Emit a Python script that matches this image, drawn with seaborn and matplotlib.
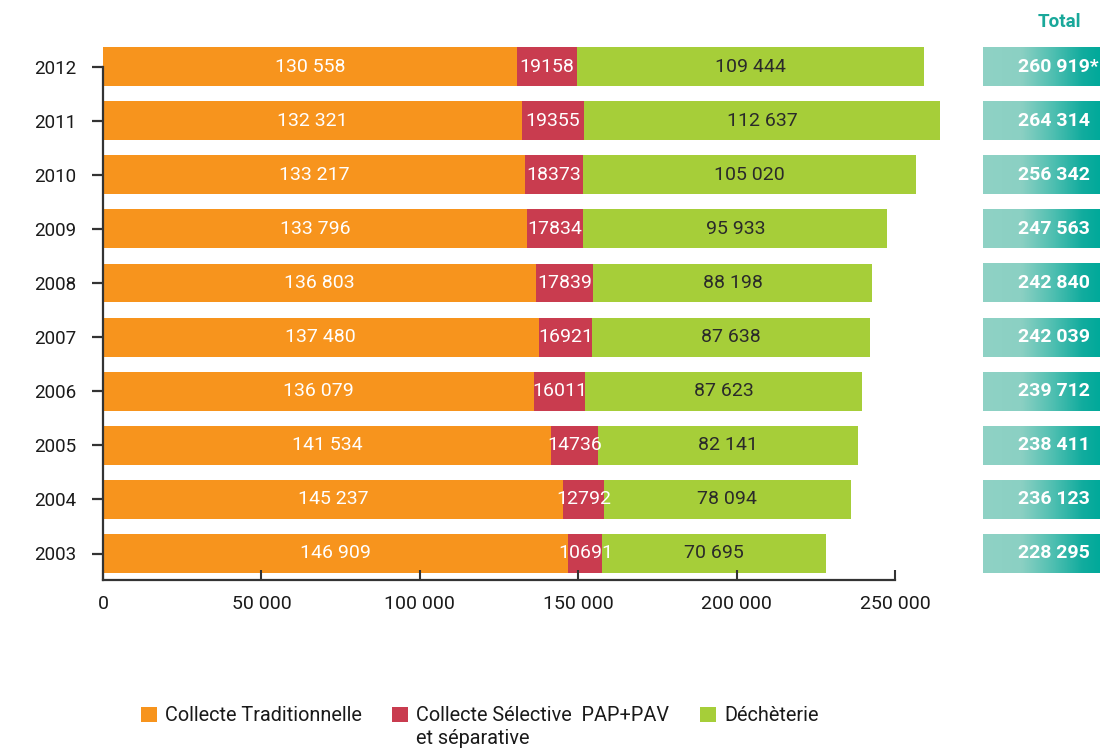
import matplotlib
matplotlib.use("Agg")
import matplotlib.pyplot as plt
import seaborn as sns
import pandas as pd
import numpy as np
from matplotlib.patches import Patch
from matplotlib.colors import LinearSegmentedColormap

# ---------------- data ----------------
years = ["2012", "2011", "2010", "2009", "2008", "2007", "2006", "2005", "2004", "2003"]
traditionnelle = [130558, 132321, 133217, 133796, 136803, 137480, 136079, 141534, 145237, 146909]
selective = [19158, 19355, 18373, 17834, 17839, 16921, 16011, 14736, 12792, 10691]
decheterie = [109444, 112637, 105020, 95933, 88198, 87638, 87623, 82141, 78094, 70695]
totals = [260919, 264314, 256342, 247563, 242840, 242039, 239712, 238411, 236123, 228295]
total_marks = ["*", "", "", "", "", "", "", "", "", ""]
series_names = ["Collecte Traditionnelle", "Collecte Sélective  PAP+PAV", "Déchèterie"]
legend_extra = "et séparative"
x_ticks = [0, 50000, 100000, 150000, 200000, 250000]
total_title = "Total"

# ---------------- style ----------------
ORANGE = "#f7941d"
RED = "#c93c4f"
GREEN = "#a6ce39"
TEAL = "#19a89a"
DARK = "#333333"

sns.set_style("white")
plt.rcParams["font.family"] = ["Roboto", "DejaVu Sans"]

def fr(v):
    return f"{v:,}".replace(",", " ")

df = pd.DataFrame({"year": years, "trad": traditionnelle, "sel": selective, "dech": decheterie})

W, H = 1100, 750
fig = plt.figure(figsize=(11, 7.5), dpi=100)

px_per_unit = 54.1
ax_bottom_px = 580
ylim_bottom = 9 + (ax_bottom_px - 553.5) / px_per_unit
ylim_top = -0.4
ax_h = (ylim_bottom - ylim_top) * px_per_unit
xmax = 265000
ax_w = xmax * 792 / 250000
ax = fig.add_axes([103 / W, 1 - ax_bottom_px / H, ax_w / W, ax_h / H])

bw = 0.72
lefts = {
    "trad": [0] * len(years),
    "sel": list(traditionnelle),
    "dech": [a + b for a, b in zip(traditionnelle, selective)],
}
colors = {"trad": ORANGE, "sel": RED, "dech": GREEN}
label_colors = {"trad": "white", "sel": "white", "dech": "#2a2a2a"}
label_fmt = {"trad": fr, "sel": str, "dech": fr}

for col in ["trad", "sel", "dech"]:
    n_before = len(ax.containers)
    sns.barplot(data=df, x=col, y="year", order=years, orient="h", color=colors[col],
                saturation=1, width=bw, ax=ax, linewidth=0)
    cont = ax.containers[n_before]
    for p, l in zip(cont.patches, lefts[col]):
        p.set_x(l)
    ax.bar_label(cont, labels=[label_fmt[col](v) for v in df[col]], label_type="center",
                 color=label_colors[col], fontsize=14)

ax.set_axisbelow(False)
ax.set_xlim(0, xmax)
ax.set_ylim(ylim_bottom, ylim_top)
ax.set_xlabel("")
ax.set_ylabel("")
ax.set_xticks(x_ticks)
ax.set_xticklabels([fr(v) for v in x_ticks])
for s in ["top", "right"]:
    ax.spines[s].set_visible(False)
ax.spines["bottom"].set_bounds(0, 250000)
ax.spines["left"].set_bounds(0, ylim_bottom)
for s in ["bottom", "left"]:
    ax.spines[s].set_color(DARK)
    ax.spines[s].set_linewidth(1.6)
ax.tick_params(axis="x", direction="in", length=7, width=1.5, color=DARK, pad=11,
               labelsize=14, labelcolor="#1a1a1a", bottom=True)
ax.tick_params(axis="y", direction="out", length=8, width=1.6, color=DARK, pad=11,
               labelsize=13.5, labelcolor="#1a1a1a", left=True)

# ---------------- total boxes ----------------
ax2 = fig.add_axes([983 / W, 1 - ax_bottom_px / H, 117 / W, ax_h / H])
ax2.set_axis_off()
cmap = LinearSegmentedColormap.from_list(
    "teal", [(0, "#8fd2c5"), (0.33, "#8bd0c3"), (0.6, "#4fbfb1"), (0.85, "#12ac9e"), (1, "#00a99a")])
grad = np.linspace(0, 1, 256).reshape(1, -1)
for i, (t, m) in enumerate(zip(totals, total_marks)):
    ax2.imshow(grad, cmap=cmap, aspect="auto", extent=[0, 1, i + bw / 2, i - bw / 2],
               interpolation="bicubic")
    ax2.text(0.30, i, fr(t) + m, ha="left", va="center", color="white",
             fontsize=14, fontweight="bold")
ax2.set_xlim(0, 1)
ax2.set_ylim(ylim_bottom, ylim_top)
fig.text(1059 / W, 1 - 22 / H, total_title, ha="center", va="center", color=TEAL,
         fontsize=13.5, fontweight="bold")

# ---------------- legend ----------------
handles = [Patch(facecolor=c, edgecolor="none") for c in [ORANGE, RED, GREEN]]
leg = fig.legend(handles, series_names, loc="upper left", bbox_to_anchor=(141 / W, 1 - 706 / H),
                 ncol=3, frameon=False, fontsize=14.3, handlelength=0.8, handleheight=0.8,
                 handletextpad=0.4, columnspacing=1.55, borderpad=0, borderaxespad=0)
for t in leg.get_texts():
    t.set_color("#1a1a1a")
fig.canvas.draw()
bb = leg.get_texts()[1].get_window_extent().transformed(fig.transFigure.inverted())
fig.text(bb.x0, bb.y0 - 0.006, legend_extra, ha="left", va="top", fontsize=14.3, color="#1a1a1a")

fig.savefig("out.png", dpi=100)
